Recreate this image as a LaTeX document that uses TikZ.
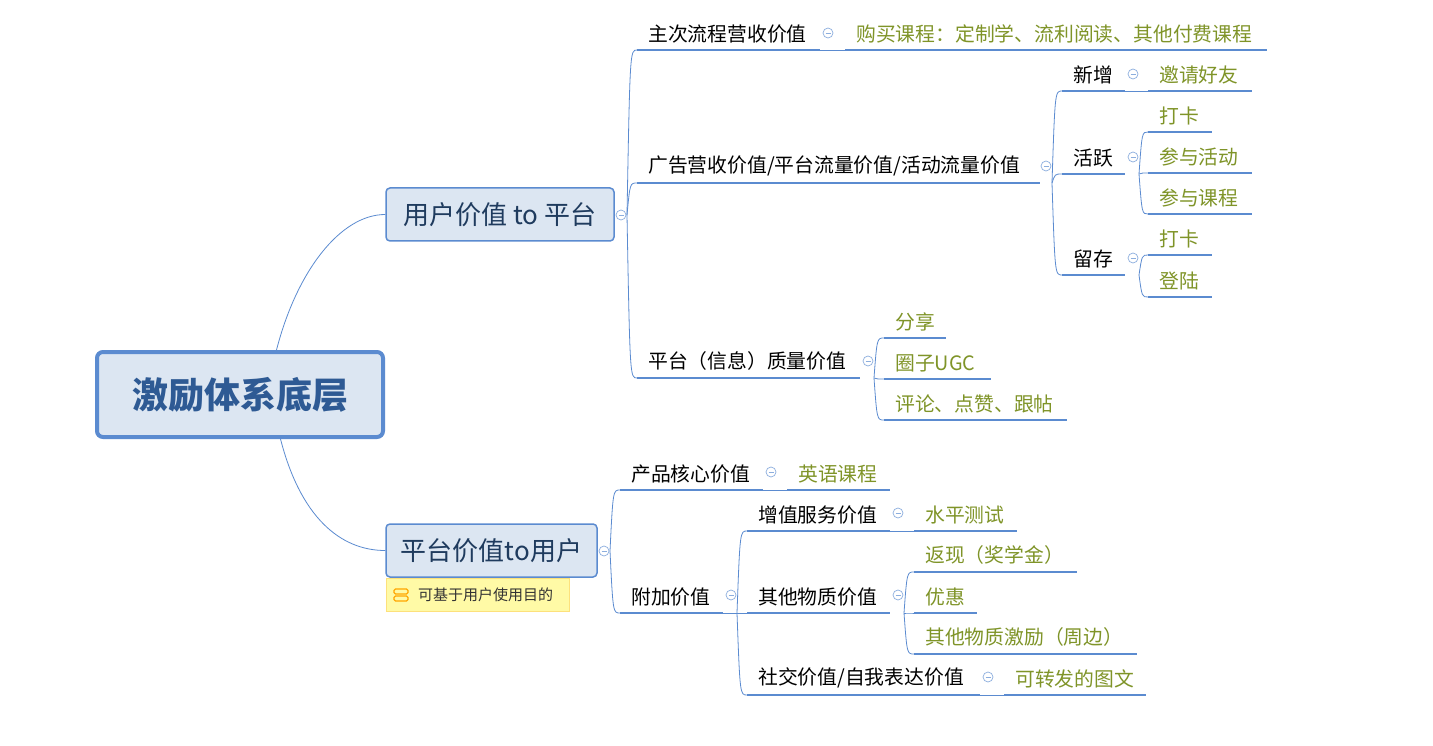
\documentclass[tikz,border=0pt]{standalone}
\usepackage{fontspec}
\setmainfont{Noto Sans CJK SC}
\usetikzlibrary{calc}
\definecolor{lb}{HTML}{5B8BD0}
\definecolor{ol}{HTML}{7F9428}
\definecolor{mf}{HTML}{DCE6F2}
\definecolor{dk}{HTML}{1F3B5E}
\definecolor{rt}{HTML}{2E5A94}
\tikzset{
  topic/.style={anchor=south west,inner xsep=11pt,inner ysep=7pt,font=\fontsize{19.8}{23}\selectfont},
  uline/.style={draw=lb,line width=2.5pt},
  thinl/.style={draw=lb,line width=0.8pt},
  br/.style={draw=lb,line width=0.8pt,to path={.. controls ($(\tikztostart|-\tikztotarget)+(3,0)$) .. (\tikztotarget)}},
  coll/.style={circle,draw=lb!70,fill=white,line width=0.7pt,minimum size=10pt,inner sep=0pt,
    path picture={\draw[lb!70,line width=0.7pt] ([xshift=-2.5pt]path picture bounding box.center)--([xshift=2.5pt]path picture bounding box.center);}},
  mainn/.style={draw=lb,fill=mf,rounded corners=4pt,line width=1.5pt,text=dk,font=\fontsize{26}{30}\selectfont},
}
\newcommand\topic[6]{%
  \node[topic,text=#5] (#1) at (#2,#3) {#6};
  \coordinate (#1e) at (#4,#3);
  \draw[uline] (#1.south west) -- (#1e);}
\begin{document}
\begin{tikzpicture}[x=1pt,y=-1pt]
\useasboundingbox[fill=white] (0,0) rectangle (1433,746);
\coordinate (rtop) at (276,352);
\coordinate (rbot) at (280,437);
\node[mainn,minimum width=228pt,minimum height=53pt] (m1) at (500,214.5) {用户价值 to 平台};
\node[mainn,minimum width=211pt,minimum height=53pt] (m2) at (491.5,550.5) {平台价值to用户};
\draw[thinl] (rtop) .. controls +(20,-80) and +(-45,0) .. (m1.west);
\draw[thinl] (rbot) .. controls +(20,80) and +(-45,0) .. (m2.west);
% root
\node[draw=lb,fill=mf,rounded corners=6pt,line width=4pt,minimum width=286pt,minimum height=85pt,text=rt,font=\fontsize{36}{42}\selectfont\bfseries] (root) at (240,394.5) {激励体系底层};
\node[draw=yellow!60!orange!50,fill=yellow!35,minimum width=183pt,minimum height=33pt,line width=0.8pt] (note) at (477.5,594.5) {};
\node[anchor=west,font=\fontsize{15}{18}\selectfont,text=black!80,inner sep=0pt] (notet) at (418,594.5) {可基于用户使用目的};
\draw[orange!70!yellow,line width=1.2pt,rounded corners=1.5pt] (394,589) rectangle (408,594) (394,596) rectangle (408,601);
\node[coll] (cm1) at (621,215) {};
\node[coll] (cm2) at (604,551) {};
\coordinate (om1) at (627,215);
\coordinate (om2) at (610,551);
% level 2 under m1
\topic{a1}{637}{50}{820}{black}{主次流程营收价值}
\topic{a2}{637}{183}{1040}{black}{广告营收价值/平台流量价值/活动流量价值}
\topic{a3}{637}{378}{860}{black}{平台（信息）质量价值}
\draw[br] (om1) to (a1.south west);
\draw[br] (om1) to (a2.south west);
\draw[br] (om1) to (a3.south west);
\node[coll] at (828,33) {};
\topic{a11}{845}{50}{1267}{ol}{购买课程：定制学、流利阅读、其他付费课程}
\draw[thinl] (a1e) -- (a11.south west);
\node[coll] at (1046,166) {};
\coordinate (oa2) at (1052,183);
\topic{b1}{1062}{91}{1125}{black}{新增}
\topic{b2}{1062}{174}{1125}{black}{活跃}
\topic{b3}{1062}{275}{1125}{black}{留存}
\draw[br] (oa2) to (b1.south west);
\draw[br] (oa2) to (b2.south west);
\draw[br] (oa2) to (b3.south west);
\node[coll] at (1133,74) {};
\topic{b11}{1148}{91}{1252}{ol}{邀请好友}
\draw[thinl] (b1e) -- (b11.south west);
\node[coll] at (1133,157) {};
\coordinate (ob2) at (1139,174);
\topic{b21}{1148}{132}{1212}{ol}{打卡}
\topic{b22}{1148}{173}{1252}{ol}{参与活动}
\topic{b23}{1148}{214}{1252}{ol}{参与课程}
\draw[br] (ob2) to (b21.south west);
\draw[br] (ob2) to (b22.south west);
\draw[br] (ob2) to (b23.south west);
\node[coll] at (1133,258) {};
\coordinate (ob3) at (1139,275);
\topic{b31}{1148}{255}{1212}{ol}{打卡}
\topic{b32}{1148}{297}{1212}{ol}{登陆}
\draw[br] (ob3) to (b31.south west);
\draw[br] (ob3) to (b32.south west);
\node[coll] at (868,361) {};
\coordinate (oa3) at (874,378);
\topic{c1}{884}{338}{946}{ol}{分享}
\topic{c2}{884}{379}{991}{ol}{圈子UGC}
\topic{c3}{884}{420}{1067}{ol}{评论、点赞、跟帖}
\draw[br] (oa3) to (c1.south west);
\draw[br] (oa3) to (c2.south west);
\draw[br] (oa3) to (c3.south west);
% under m2
\topic{d1}{620}{490}{763}{black}{产品核心价值}
\topic{d2}{620}{613}{723}{black}{附加价值}
\draw[br] (om2) to (d1.south west);
\draw[br] (om2) to (d2.south west);
\node[coll] at (771,472) {};
\topic{d11}{787}{490}{890}{ol}{英语课程}
\draw[thinl] (d1e) -- (d11.south west);
\node[coll] at (731,595) {};
\coordinate (od2) at (737,613);
\topic{e1}{747}{531}{890}{black}{增值服务价值}
\topic{e2}{747}{613}{890}{black}{其他物质价值}
\topic{e3}{747}{695}{980}{black}{社交价值/自我表达价值}
\draw[br] (od2) to (e1.south west);
\draw[thinl] (d2e) -- (e2.south west);
\draw[br] (od2) to (e3.south west);
\node[coll] at (898,513) {};
\topic{e11}{914}{531}{1017}{ol}{水平测试}
\draw[thinl] (e1e) -- (e11.south west);
\node[coll] at (898,595) {};
\coordinate (oe2) at (904,613);
\topic{e21}{914}{572}{1077}{ol}{返现（奖学金）}
\topic{e22}{914}{613}{977}{ol}{优惠}
\topic{e23}{914}{654}{1137}{ol}{其他物质激励（周边）}
\draw[br] (oe2) to (e21.south west);
\draw[br] (oe2) to (e22.south west);
\draw[br] (oe2) to (e23.south west);
\node[coll] at (988,677) {};
\topic{e31}{1004}{695}{1146}{ol}{可转发的图文}
\draw[thinl] (e3e) -- (e31.south west);
\end{tikzpicture}
\end{document}
